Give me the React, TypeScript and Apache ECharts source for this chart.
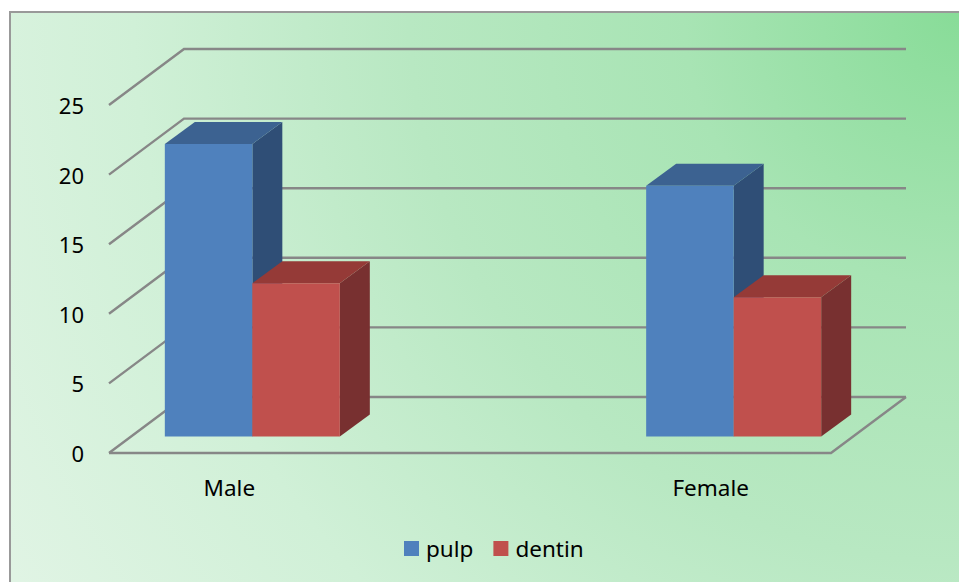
import React, { useEffect, useRef } from "react";
import * as echarts from "echarts";

const categories = ["Male", "", "Female"];
const pulpValues = [21, null, 18];
const dentinValues = [11, null, 10];
const yTicks = [0, 5, 10, 15, 20, 25];

const FONT = "Noto Sans";
const GRID_COLOR = "#878787";

// Floor depth of the 3D box, and the depth of each column within it.
const WALL_DX = 75;
const WALL_DY = 56;
const BAR_FLOOR_DX = 23;
const BAR_FLOOR_DY = 16.6;
const BAR_DX = 30;
const BAR_DY = 22;
const BAR_BAND_RATIO = 0.3636;

const shade = {
  pulp: { front: "#4F81BD", top: "#3C6291", side: "#2F4E76" },
  dentin: { front: "#C0504D", top: "#953A37", side: "#783030" },
};

function toPoints(values: (number | null)[]) {
  return values.map((v, i) => [i, v]).filter((p) => p[1] !== null);
}

function renderColumn(tone: { front: string; top: string; side: string }, side: -1 | 1) {
  return (_params: any, api: any) => {
    const base = api.coord([api.value(0), 0]);
    const head = api.coord([api.value(0), api.value(1)]);
    const w = api.size([1, 0])[0] * BAR_BAND_RATIO;
    const x0 = base[0] + BAR_FLOOR_DX + (side < 0 ? -w : 0);
    const x1 = x0 + w;
    const yb = base[1] - BAR_FLOOR_DY;
    const yt = head[1] - BAR_FLOOR_DY;
    const poly = (points: number[][], fill: string) => ({
      type: "polygon",
      shape: { points },
      style: { fill },
    });
    return {
      type: "group",
      children: [
        poly([[x1, yb], [x1 + BAR_DX, yb - BAR_DY], [x1 + BAR_DX, yt - BAR_DY], [x1, yt]], tone.side),
        poly([[x0, yt], [x1, yt], [x1 + BAR_DX, yt - BAR_DY], [x0 + BAR_DX, yt - BAR_DY]], tone.top),
        poly([[x0, yb], [x1, yb], [x1, yt], [x0, yt]], tone.front),
      ],
    };
  };
}

function renderWall(params: any, api: any) {
  const { x, width } = params.coordSys;
  const y = api.coord([0, api.value(1)])[1];
  const stroke = { stroke: GRID_COLOR, lineWidth: 2.4, fill: "none" };
  const children: any[] = [
    {
      type: "polyline",
      shape: {
        points: [
          [x, y],
          [x + WALL_DX, y - WALL_DY],
          [x + width + WALL_DX, y - WALL_DY],
        ],
      },
      style: stroke,
    },
  ];
  if (api.value(1) === 0) {
    children.push({
      type: "polyline",
      shape: {
        points: [
          [x + width + WALL_DX, y - WALL_DY],
          [x + width, y],
          [x, y],
        ],
      },
      style: stroke,
    });
  }
  return { type: "group", children };
}

export default function App() {
  const ref = useRef<HTMLDivElement>(null);

  useEffect(() => {
    const chart = echarts.init(ref.current!, undefined, { renderer: "svg" });
    chart.setOption({
      animation: false,
      backgroundColor: "#ffffff",
      textStyle: { fontFamily: FONT },
      graphic: {
        elements: [
          {
            type: "rect",
            z: -10,
            shape: { x: 10, y: 12, width: 980, height: 600 },
            style: {
              fill: new echarts.graphic.RadialGradient(
                959,
                12,
                1100,
                [
                  { offset: 0, color: "#88DC98" },
                  { offset: 0.25, color: "#A8E4B4" },
                  { offset: 0.5, color: "#B8E8C2" },
                  { offset: 0.75, color: "#D0F0D7" },
                  { offset: 1, color: "#E0F4E4" },
                ],
                true
              ),
              stroke: "#999999",
              lineWidth: 2,
            },
          },
        ],
      },
      grid: { left: 109, top: 105, width: 722, height: 348 },
      xAxis: {
        type: "category",
        data: categories,
        axisLine: { show: false },
        axisTick: { show: false },
        axisLabel: { color: "#000000", fontSize: 22.5, fontFamily: FONT, margin: 23, interval: 0 },
      },
      yAxis: {
        type: "value",
        min: 0,
        max: 25,
        interval: 5,
        axisLine: { show: false },
        axisTick: { show: false },
        splitLine: { show: false },
        axisLabel: { color: "#000000", fontSize: 22, fontFamily: FONT, margin: 25 },
      },
      legend: {
        data: ["pulp", "dentin"],
        left: 404,
        top: 537,
        padding: 0,
        icon: "rect",
        itemWidth: 15,
        itemHeight: 15,
        itemGap: 20,
        textStyle: { color: "#000000", fontSize: 22.5, fontFamily: FONT, padding: [0, 0, 0, 2] },
      },
      series: [
        {
          type: "custom",
          name: "wall",
          data: yTicks.map((v) => [0, v]),
          renderItem: renderWall,
          encode: { x: 0, y: 1 },
          silent: true,
          z: 1,
        },
        {
          type: "custom",
          name: "pulp",
          data: toPoints(pulpValues),
          renderItem: renderColumn(shade.pulp, -1),
          encode: { x: 0, y: 1 },
          itemStyle: { color: shade.pulp.front },
          z: 2,
        },
        {
          type: "custom",
          name: "dentin",
          data: toPoints(dentinValues),
          renderItem: renderColumn(shade.dentin, 1),
          encode: { x: 0, y: 1 },
          itemStyle: { color: shade.dentin.front },
          z: 3,
        },
      ],
    });
    return () => chart.dispose();
  }, []);

  return (
    <div
      ref={ref}
      style={{ position: "absolute", left: 0, top: 0, width: 959, height: 582, overflow: "hidden" }}
    />
  );
}
